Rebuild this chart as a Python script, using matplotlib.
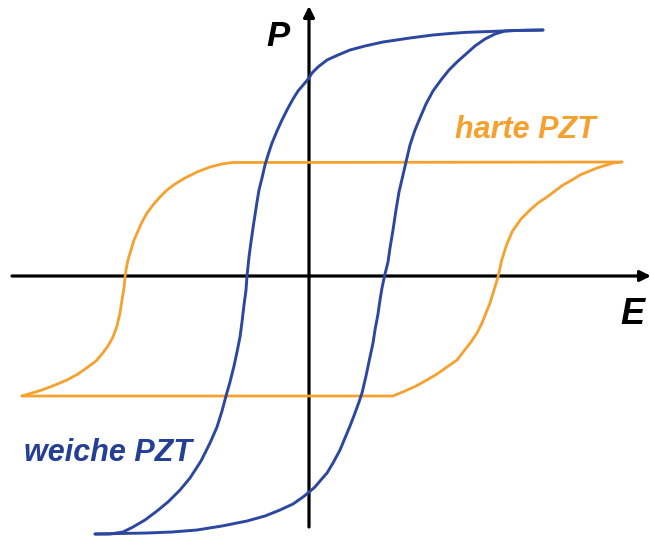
"""
Hysteresis loops P(E) for soft and hard PZT.
"""
import matplotlib
matplotlib.use("Agg")
import matplotlib.pyplot as plt

# soft PZT ("weiche PZT"), descending branch (right end -> left end)
soft_down_E = [234, 216, 201, 181, 158, 141, 124, 101, 74, 56, 41, 29, 18, 9,
               3, 0, -5, -11, -16, -22, -27, -32, -37, -41, -44, -47, -50, -52,
               -54, -56, -58, -60, -62, -63, -65, -67, -69, -72, -75, -79, -83,
               -87, -92, -99, -108, -119, -129, -141, -152, -164, -176, -186,
               -199, -214]
soft_down_P = [246, 245.7, 245.3, 244.5, 243.7, 242.5, 241, 238, 234, 230, 226,
               221, 216, 209, 203, 198, 192, 185, 177, 166, 156, 145, 133, 121,
               111, 98, 86, 74, 61, 48, 34, 19, 0, -14, -29, -46, -61, -76, -90,
               -106, -120, -135, -151, -167, -185, -202, -214, -226, -235, -244,
               -251, -256, -258, -258]

# soft PZT, ascending branch (left end -> right end)
soft_up_E = [-214, -189, -162, -137, -112, -87, -62, -44, -29, -16, -6, -1, 6,
             11, 18, 24, 31, 36, 41, 46, 50, 53, 57, 61, 64, 66, 69, 71, 73,
             75.5, 79, 81, 84, 87, 90, 94, 97, 101, 106, 111, 117, 124, 132,
             140, 148, 157, 166, 176, 186, 196, 206, 234]
soft_up_P = [-258, -257.5, -257, -256, -254, -250, -245, -240, -234, -228, -221,
             -217, -211, -205, -197, -187, -174, -162, -150, -137, -126, -117,
             -100, -81, -67, -54, -38, -24, -12, 0, 14, 28, 46, 66, 84, 101, 114,
             131, 146, 158, 172, 185, 196, 206, 214, 222, 230, 237, 242, 245,
             245.5, 246]

# hard PZT ("harte PZT"), descending branch
hard_down_E = [313, -77, -87, -99, -112, -124, -134, -142, -149, -156, -162,
               -167, -171, -175, -178, -181, -183, -184, -185, -187, -189, -192,
               -196, -201, -207, -213, -221, -231, -242, -254, -267, -287]
hard_down_P = [114, 113.5, 112, 109, 104, 98, 92, 86, 79, 71, 63, 54, 45, 36,
               26, 16, 6, -1, -12, -24, -37, -50, -61, -70, -78, -85, -91, -98,
               -104, -109, -114, -120]

# hard PZT, ascending branch
hard_up_E = [-287, 84, 96, 107, 118, 128, 138, 148, 155, 162, 168, 173, 177,
             181, 185, 189, 192.5, 197.5, 203.5, 212, 221, 229, 238, 246, 254,
             263, 271, 288, 304, 313]
hard_up_P = [-120, -120, -115, -110, -104, -98, -91, -84, -75, -66, -57, -47,
             -37, -27, -14, -1, 15, 31, 45, 57, 66, 73, 79, 85, 91, 96, 101,
             108, 113, 114]

blue = "#2c47a0"
blue_text = "#243f95"
orange = "#f6a12e"

fig = plt.figure(figsize=(6.51, 5.36), dpi=100)
ax = fig.add_axes([0, 0, 1, 1])
ax.set_xlim(-309, 342)
ax.set_ylim(-260, 276)
ax.axis("off")

# coordinate axes with arrow heads
arrow = dict(arrowstyle="-|>", lw=2.3, color="black", mutation_scale=16,
             shrinkA=0, shrinkB=0)
ax.annotate("", xy=(342, 0), xytext=(-297, 0), arrowprops=arrow, zorder=1)
ax.annotate("", xy=(0, 270), xytext=(0, -251), arrowprops=arrow, zorder=1)

line = dict(solid_joinstyle="round", solid_capstyle="round")
ax.plot(hard_down_E, hard_down_P, color=orange, lw=2.0, zorder=2, **line)
ax.plot(hard_up_E, hard_up_P, color=orange, lw=2.0, zorder=2, **line)
ax.plot(soft_down_E, soft_down_P, color=blue, lw=2.1, zorder=3, **line)
ax.plot(soft_up_E, soft_up_P, color=blue, lw=2.1, zorder=3, **line)

font = dict(family="Liberation Sans", weight="bold", style="italic",
            ha="center", va="center")
ax.text(-31, 240, "P", fontsize=25, color="black", **font)
ax.text(323, -39, "E", fontsize=26, color="black", **font)
ax.text(216, 146, "harte PZT", fontsize=22, color=orange, **font)
ax.text(-201, -177, "weiche PZT", fontsize=22, color=blue_text, **font)

fig.savefig("out.png", dpi=100)
